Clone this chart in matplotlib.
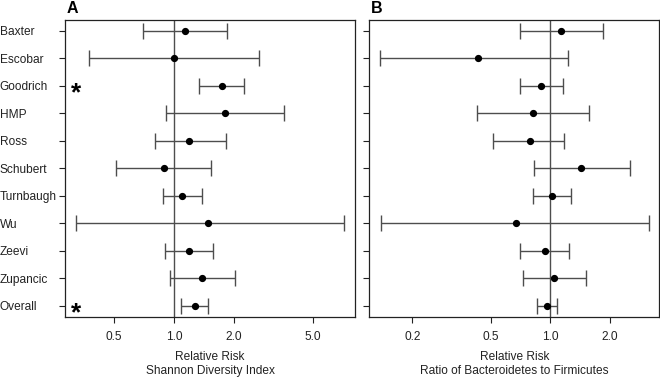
import numpy as np
import matplotlib
matplotlib.use("Agg")
import matplotlib.pyplot as plt
from matplotlib.transforms import offset_copy

plt.rcParams['font.family'] = ['Liberation Sans', 'DejaVu Sans']

studies = ["Baxter", "Escobar", "Goodrich", "HMP", "Ross", "Schubert",
           "Turnbaugh", "Wu", "Zeevi", "Zupancic", "Overall"]

# Panel A: Shannon Diversity Index
a_est = [1.14, 1.00, 1.74, 1.80, 1.19, 0.89, 1.10, 1.49, 1.19, 1.38, 1.27]
a_lo  = [0.70, 0.372, 1.335, 0.915, 0.80, 0.513, 0.883, 0.32, 0.897, 0.955, 1.09]
a_hi  = [1.85, 2.69, 2.26, 3.58, 1.83, 1.535, 1.39, 7.2, 1.58, 2.02, 1.475]
a_sig = ["Goodrich", "Overall"]
a_ticks = [0.5, 1.0, 2.0, 5.0]
a_ticklabels = ["0.5", "1.0", "2.0", "5.0"]
a_xlabel = "Relative Risk\nShannon Diversity Index"

# Panel B: Ratio of Bacteroidetes to Firmicutes
b_est = [1.137, 0.43, 0.90, 0.817, 0.786, 1.43, 1.02, 0.667, 0.936, 1.048, 0.962]
b_lo  = [0.703, 0.137, 0.70, 0.425, 0.51, 0.823, 0.814, 0.139, 0.705, 0.728, 0.859]
b_hi  = [1.855, 1.23, 1.16, 1.58, 1.18, 2.53, 1.28, 3.15, 1.24, 1.52, 1.085]
b_sig = []
b_ticks = [0.2, 0.5, 1.0, 2.0]
b_ticklabels = ["0.2", "0.5", "1.0", "2.0"]
b_xlabel = "Relative Risk\nRatio of Bacteroidetes to Firmicutes"

fig = plt.figure(figsize=(6.6, 3.8), dpi=100)
axA = fig.add_axes([65/660, 1-316.7/380, 290/660, 296.7/380])
axB = fig.add_axes([369.3/660, 1-316.7/380, 290/660, 296.7/380])

n = len(studies)
ypos = np.arange(n, 0, -1)
line_col = '#4d4d4d'
spine_col = '#222222'
fs = 8.6

def draw(ax, est, lo, hi, sig, ticks, ticklabels, xlabel, title, show_labels):
    lo = np.array(lo); hi = np.array(hi); est = np.array(est)
    ax.set_xscale('log')
    ax.axvline(1.0, color=line_col, lw=1.0, zorder=1)
    ax.errorbar(est, ypos, xerr=[est - lo, hi - est], fmt='o', color='black',
                ecolor=line_col, elinewidth=1.0, capsize=5.8, capthick=1.0,
                markersize=4.2, zorder=3)
    llo, lhi = np.log10(lo.min()), np.log10(hi.max())
    pad = 0.04 * (lhi - llo)
    ax.set_xlim(10**(llo - pad), 10**(lhi + pad))
    ax.set_ylim(0.6, n + 0.4)
    ax.set_xticks(ticks)
    ax.set_xticklabels(ticklabels)
    ax.xaxis.set_minor_locator(matplotlib.ticker.NullLocator())
    ax.set_yticks(ypos)
    if show_labels:
        ax.set_yticklabels(studies)
        for lab in ax.get_yticklabels():
            lab.set_horizontalalignment('left')
        ax.tick_params(axis='y', pad=42.3)
    else:
        ax.set_yticklabels([])
    ax.tick_params(axis='both', direction='out', length=4.6, width=0.8,
                   colors=spine_col, labelcolor='#222222', labelsize=fs)
    ax.tick_params(axis='x', pad=5.5)
    for s in ax.spines.values():
        s.set_color(spine_col)
        s.set_linewidth(0.9)
    ax.set_xlabel(xlabel, fontsize=fs, color='#222222', labelpad=6, linespacing=1.25)
    tr = offset_copy(ax.get_yaxis_transform(), fig=ax.figure, x=0, y=-5.5, units='points')
    for s in sig:
        i = studies.index(s)
        ax.text(0.038, ypos[i], "*", transform=tr,
                ha='center', va='center', fontsize=19, fontweight='bold',
                color='black')
    ax.text(0.005, 0.0246 + 1.0, title, transform=ax.transAxes, ha='left',
            va='baseline', fontsize=11.5, fontweight='bold', color='black')

draw(axA, a_est, a_lo, a_hi, a_sig, a_ticks, a_ticklabels, a_xlabel, "A", True)
draw(axB, b_est, b_lo, b_hi, b_sig, b_ticks, b_ticklabels, b_xlabel, "B", False)

fig.savefig("out.png", dpi=100)
